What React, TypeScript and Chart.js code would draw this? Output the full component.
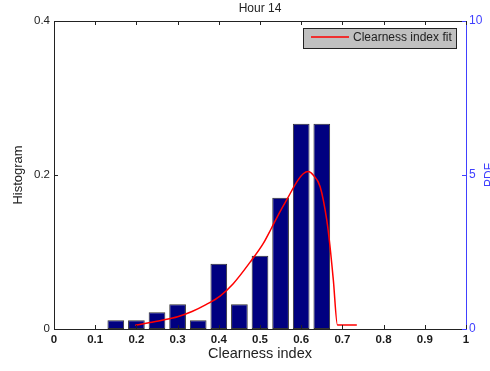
import React, { useEffect, useRef } from "react";
import { Chart, registerables } from "chart.js";

Chart.register(...registerables);

const chartTitle = "Hour 14";
const xTitle = "Clearness index";
const leftTitle = "Histogram";
const rightTitle = "PDF";
const legendLabel = "Clearness index fit";

const binCenters = [0.15, 0.2, 0.25, 0.3, 0.35, 0.4, 0.45, 0.5, 0.55, 0.6, 0.65];
const histValues = [0.0113, 0.0113, 0.0217, 0.032, 0.0113, 0.0848, 0.032, 0.095, 0.1705, 0.2667, 0.2667];

const fitX = [0.197, 0.23, 0.265, 0.3, 0.335, 0.37, 0.403, 0.435, 0.476, 0.508, 0.528, 0.549, 0.565, 0.593, 0.605, 0.617, 0.629, 0.646, 0.662, 0.67, 0.678, 0.688, 0.7, 0.735];
const fitY = [0.12, 0.2, 0.29, 0.4, 0.57, 0.8, 1.07, 1.47, 2.17, 2.78, 3.28, 3.82, 4.2, 4.85, 5.04, 5.11, 5.0, 4.62, 3.54, 2.67, 1.59, 0.13, 0.13, 0.13];

const xTicks = [0, 0.1, 0.2, 0.3, 0.4, 0.5, 0.6, 0.7, 0.8, 0.9, 1];
const leftTicks = [0, 0.2, 0.4];
const rightTicks = [0, 5, 10];

const FONT = "'Liberation Sans', Arial, Helvetica, sans-serif";

const decorPlugin = {
  id: "decor",
  afterDraw(chart: any) {
    const ctx = chart.ctx;
    const ca = chart.chartArea;
    const xs = chart.scales.x;
    const yl = chart.scales.y;
    const yr = chart.scales.y1;
    ctx.save();
    ctx.strokeStyle = "#222";
    ctx.lineWidth = 1;
    ctx.beginPath();
    ctx.moveTo(ca.left, ca.top + 0.5);
    ctx.lineTo(ca.right, ca.top + 0.5);
    ctx.stroke();
    ctx.beginPath();
    xTicks.forEach((v) => {
      const px = Math.round(xs.getPixelForValue(v)) + 0.5;
      ctx.moveTo(px, ca.bottom);
      ctx.lineTo(px, ca.bottom - 4);
      ctx.moveTo(px, ca.top);
      ctx.lineTo(px, ca.top + 4);
    });
    leftTicks.forEach((v) => {
      const py = Math.round(yl.getPixelForValue(v)) + 0.5;
      ctx.moveTo(ca.left, py);
      ctx.lineTo(ca.left + 4, py);
    });
    ctx.stroke();
    ctx.strokeStyle = "#4040ff";
    ctx.beginPath();
    rightTicks.forEach((v) => {
      const py = Math.round(yr.getPixelForValue(v)) + 0.5;
      ctx.moveTo(ca.right, py);
      ctx.lineTo(ca.right - 4, py);
    });
    ctx.stroke();

    ctx.fillStyle = "#222";
    ctx.font = `12px ${FONT}`;
    ctx.textAlign = "center";
    ctx.textBaseline = "middle";
    ctx.fillText(chartTitle, (ca.left + ca.right) / 2, 9);

    const lx = 303, ly = 28, lw = 153, lh = 20;
    ctx.fillStyle = "#c0c0c0";
    ctx.fillRect(lx, ly, lw, lh);
    ctx.strokeStyle = "#222";
    ctx.strokeRect(lx + 0.5, ly + 0.5, lw, lh);
    ctx.strokeStyle = "#ff0000";
    ctx.lineWidth = 1.5;
    ctx.beginPath();
    ctx.moveTo(311, 37);
    ctx.lineTo(349, 37);
    ctx.stroke();
    ctx.fillStyle = "#222";
    ctx.textAlign = "left";
    ctx.font = `12px ${FONT}`;
    ctx.fillText(legendLabel, 353, 38);

    ctx.save();
    ctx.translate(490, (ca.top + ca.bottom) / 2);
    ctx.rotate(-Math.PI / 2);
    ctx.fillStyle = "#4040ff";
    ctx.textAlign = "center";
    ctx.textBaseline = "middle";
    ctx.font = `12px ${FONT}`;
    ctx.fillText(rightTitle, 0, 0);
    ctx.restore();

    ctx.restore();
  },
};

export default function App() {
  const ref = useRef<HTMLCanvasElement>(null);
  useEffect(() => {
    if (!ref.current) return;
    const chart = new Chart(ref.current, {
      type: "bar",
      data: {
        datasets: [
          {
            type: "line",
            label: legendLabel,
            data: fitX.map((x, i) => ({ x, y: fitY[i] })),
            yAxisID: "y1",
            xAxisID: "x",
            borderColor: "#ff0000",
            borderWidth: 1.5,
            pointRadius: 0,
            cubicInterpolationMode: "monotone",
            fill: false,
            order: 0,
          } as any,
          {
            type: "bar",
            label: "Histogram",
            data: binCenters.map((x, i) => ({ x, y: histValues[i] })),
            yAxisID: "y",
            xAxisID: "x",
            backgroundColor: "#000080",
            borderColor: "#333333",
            borderWidth: 1,
            borderSkipped: false,
            barPercentage: 0.81,
            categoryPercentage: 1,
            order: 1,
          } as any,
        ],
      },
      options: {
        animation: false,
        responsive: true,
        maintainAspectRatio: false,
        layout: { padding: { top: 21, left: 0, right: 0, bottom: 0 } },
        plugins: {
          legend: { display: false },
          title: { display: false },
          tooltip: { enabled: false },
        },
        scales: {
          x: {
            type: "linear",
            min: 0,
            max: 1,
            offset: false,
            afterFit: (s: any) => {
              s.height = 42;
            },
            afterBuildTicks: (s: any) => {
              s.ticks = xTicks.map((v) => ({ value: v }));
            },
            grid: { display: false, drawTicks: false },
            border: { display: true, color: "#222", width: 1 },
            ticks: {
              padding: 4,
              color: "#1a1a1a",
              maxRotation: 0,
              autoSkip: false,
              font: { family: FONT, size: 11.5, weight: "bold" },
              callback: (v: any) => String(Number(v)),
            },
            title: {
              display: true,
              text: xTitle,
              color: "#222",
              font: { family: FONT, size: 14.5 },
              padding: { top: 0, bottom: 8 },
            },
          },
          y: {
            type: "linear",
            position: "left",
            min: 0,
            max: 0.4,
            afterFit: (s: any) => {
              s.width = 54;
            },
            afterBuildTicks: (s: any) => {
              s.ticks = leftTicks.map((v) => ({ value: v }));
            },
            grid: { display: false, drawTicks: false },
            border: { display: true, color: "#222", width: 1 },
            ticks: {
              padding: 4,
              color: "#222",
              font: { family: FONT, size: 11.5 },
              callback: (v: any) => String(Number(v)),
            },
            title: {
              display: true,
              text: leftTitle,
              color: "#222",
              font: { family: FONT, size: 13 },
              padding: { top: 11, bottom: 0 },
            },
          },
          y1: {
            type: "linear",
            position: "right",
            min: 0,
            max: 10,
            afterFit: (s: any) => {
              s.width = 24;
            },
            afterBuildTicks: (s: any) => {
              s.ticks = rightTicks.map((v) => ({ value: v }));
            },
            grid: { display: false, drawTicks: false },
            border: { display: true, color: "#4040ff", width: 1 },
            ticks: {
              padding: 3,
              color: "#4040ff",
              font: { family: FONT, size: 12 },
              callback: (v: any) => String(Number(v)),
            },
          },
        },
      },
      plugins: [decorPlugin],
    });
    return () => chart.destroy();
  }, []);

  return (
    <div style={{ position: "absolute", left: 0, top: 0, width: 490, height: 371, background: "#fff" }}>
      <canvas ref={ref} />
    </div>
  );
}
